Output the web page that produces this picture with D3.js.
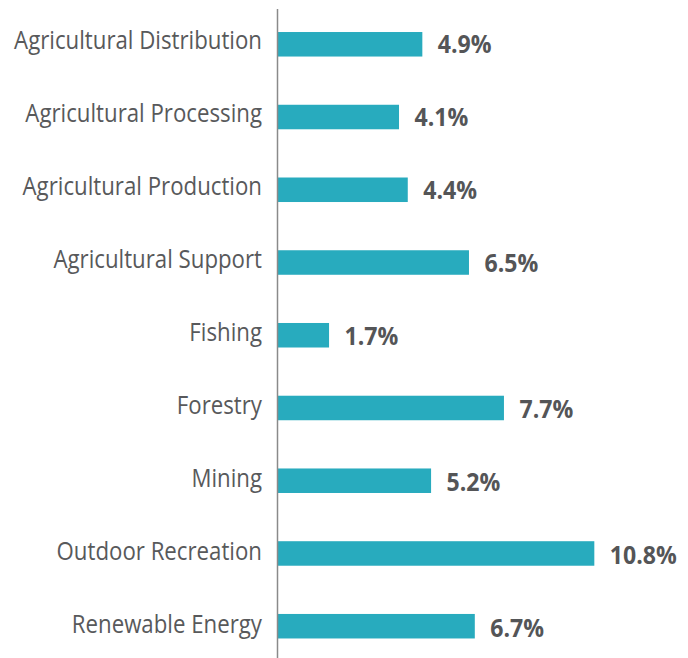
<!DOCTYPE html>
<html>
<head>
<meta charset="utf-8">
<script src="https://cdn.jsdelivr.net/npm/d3@7"></script>
<style>
  body { margin: 0; background: #fff; }
  .cat { font-family: "Open Sans", "Noto Sans", sans-serif; font-size: 26px; fill: #58595b; }
  .val { font-family: "Open Sans", "Noto Sans", sans-serif; font-weight: bold; font-size: 25px; fill: #545557; }
</style>
</head>
<body>
<div id="chart"></div>
<script>
var categories = ["Agricultural Distribution", "Agricultural Processing", "Agricultural Production",
    "Agricultural Support", "Fishing", "Forestry", "Mining", "Outdoor Recreation", "Renewable Energy"];
var values = [4.9, 4.1, 4.4, 6.5, 1.7, 7.7, 5.2, 10.8, 6.7];

var width = 688, height = 658;
var axisX = 277.5;

var svg = d3.select("#chart").append("svg")
    .attr("width", width)
    .attr("height", height);

var x = d3.scaleLinear()
    .domain([0, 11])
    .range([279.5, 279.5 + 29.15 * 11]);

// bars: top of first at 32, step ~72.75, height ~24.5
var y = d3.scaleBand()
    .domain(categories)
    .range([32 - 24.13, 32 - 24.13 + 72.75 * 9])
    .paddingInner(0.663)
    .paddingOuter(0.332);

// label baselines run on a slightly wider step than the bars
var yLabel = d3.scalePoint()
    .domain(categories)
    .range([48.7, 633.3]);

// bars
svg.append("g")
    .selectAll("rect")
    .data(values)
    .enter().append("rect")
    .attr("x", axisX + 0.5)
    .attr("y", function(d, i) { return y(categories[i]); })
    .attr("width", function(d) { return x(d) - axisX - 0.5; })
    .attr("height", y.bandwidth())
    .attr("fill", "#28abbe");

// axis line
svg.append("line")
    .attr("x1", axisX).attr("x2", axisX)
    .attr("y1", 9).attr("y2", height)
    .attr("stroke", "#8a8a8a")
    .attr("stroke-width", 1.5);

// category labels, squeezed horizontally to mimic a condensed face
var cats = svg.append("g")
    .selectAll("text")
    .data(categories)
    .enter().append("text")
    .attr("class", "cat")
    .attr("text-anchor", "end")
    .text(function(d) { return d; });

var catScale = 248 / cats.nodes()[0].getComputedTextLength();
cats.attr("transform", function(d) {
    return "translate(262," + yLabel(d) + ") scale(" + catScale + ",1)";
});

// value labels
var vals = svg.append("g")
    .selectAll("text")
    .data(values)
    .enter().append("text")
    .attr("class", "val")
    .text(function(d) { return d.toFixed(1) + "%"; });

var valScale = 67 / vals.nodes()[7].getComputedTextLength();
vals.attr("transform", function(d, i) {
    return "translate(" + (x(d) + 15.5) + "," + (yLabel(categories[i]) + 4) + ") scale(" + valScale + ",1)";
});
</script>
</body>
</html>
